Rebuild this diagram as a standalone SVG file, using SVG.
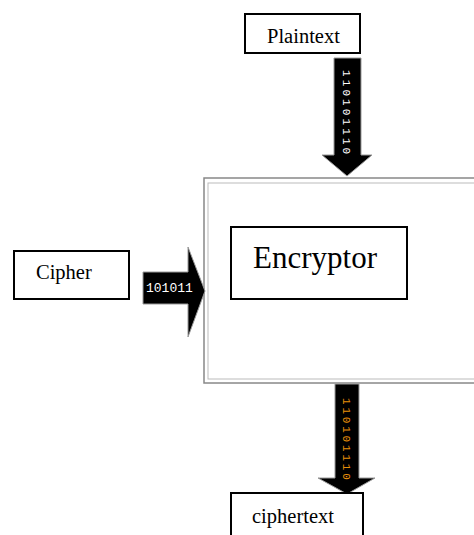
<svg xmlns="http://www.w3.org/2000/svg" width="474" height="535" viewBox="0 0 474 535">
<style>
.box{fill:#fff;stroke:#000;stroke-width:2}
.arr{fill:#000;stroke:#999;stroke-width:1}
.lbl{font-family:'Liberation Serif','DejaVu Serif',serif;fill:#000;font-size:20.5px}
.bits{font-family:'Liberation Mono','DejaVu Sans Mono',monospace}
</style>
<g id="frame">
<rect x="204" y="178" width="280" height="205" fill="#fff" stroke="#888" stroke-width="1.5"/>
<rect x="208" y="183" width="276" height="196" fill="none" stroke="#bbb" stroke-width="1"/>
</g>
<g id="connectors">
<g id="arrow-plaintext">
<polygon class="arr" points="334,58 361,58 361,155 372,155 347,176 322,155 334,155"/>
<text class="bits" font-size="11" letter-spacing="3.1" fill="#fff" transform="translate(343,70) rotate(90)">110101110</text>
</g>
<g id="arrow-cipher">
<polygon class="arr" points="143,272 188,272 188,247 205,291 188,337 188,304 143,304"/>
<text class="bits" font-size="13" fill="#fff" x="146" y="292">101011</text>
</g>
<g id="arrow-ciphertext">
<polygon class="arr" points="335,384 359,384 359,478 375,478 347,494 318,478 335,478"/>
<text class="bits" font-size="11" letter-spacing="2.8" fill="#e8900a" transform="translate(343,398) rotate(90)">110101110</text>
</g>
</g>
<g id="plaintext">
<rect class="box" x="245" y="14" width="115" height="39"/>
<text class="lbl" x="267" y="43">Plaintext</text>
</g>
<g id="cipher">
<rect class="box" x="14" y="251" width="115" height="48"/>
<text class="lbl" x="36" y="279">Cipher</text>
</g>
<g id="encryptor">
<rect class="box" x="231" y="227" width="176" height="72"/>
<text class="lbl" x="253" y="268" style="font-size:31px">Encryptor</text>
</g>
<g id="ciphertext">
<rect class="box" x="231" y="493" width="132" height="50"/>
<text class="lbl" x="252" y="523">ciphertext</text>
</g>
</svg>
